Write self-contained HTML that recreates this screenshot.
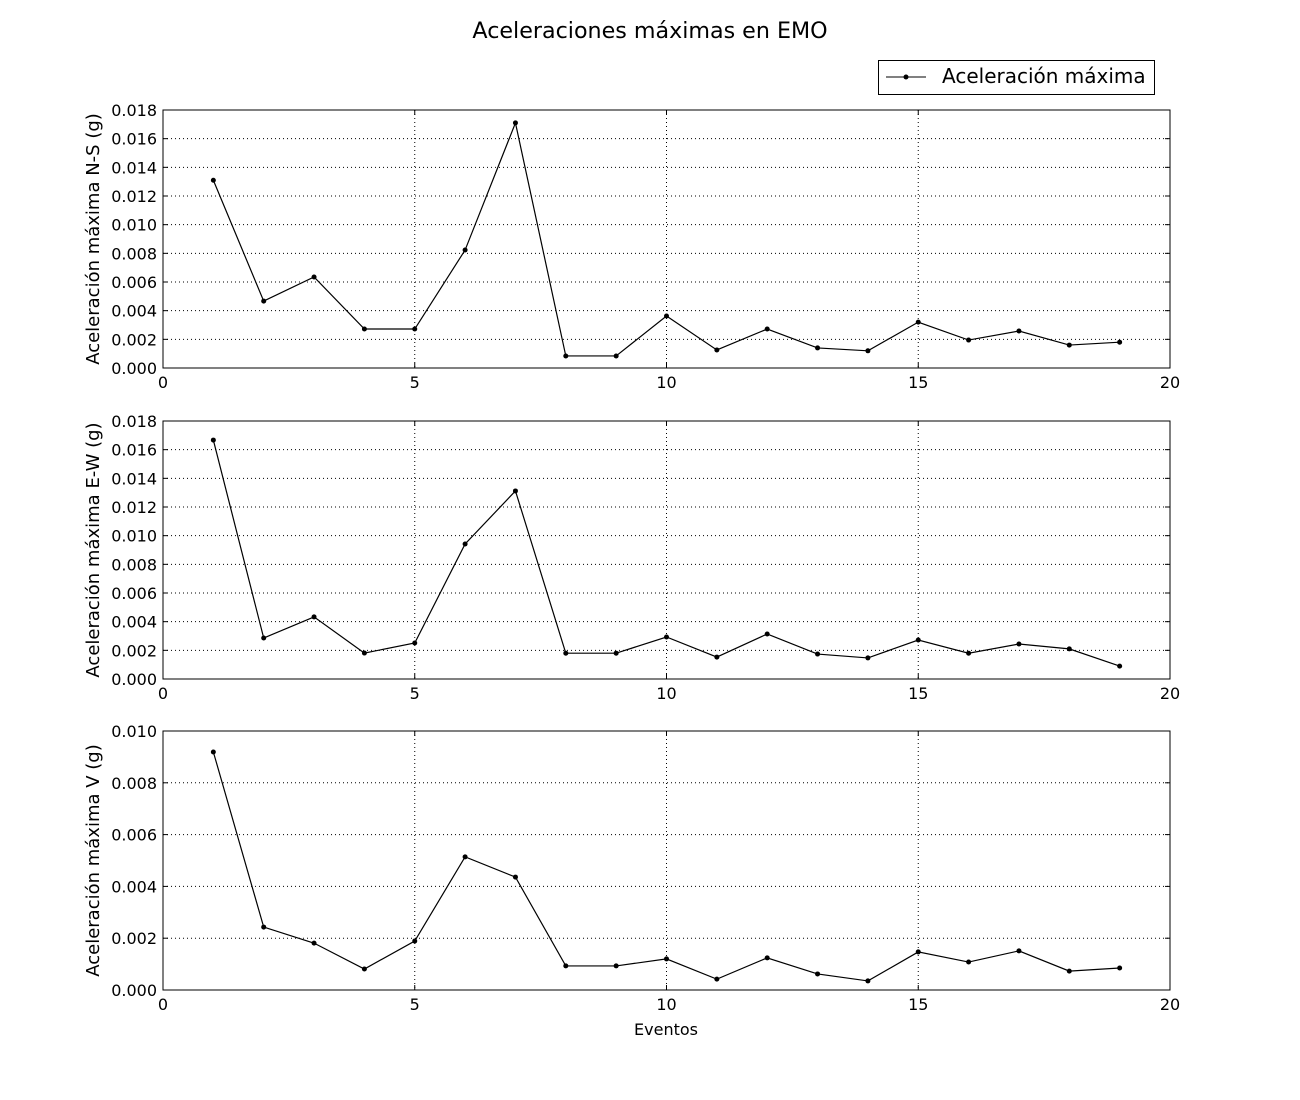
<!DOCTYPE html>
<html><head><meta charset="utf-8"><style>
body{margin:0;background:#fff}
svg{display:block;font-family:"DejaVu Sans","Liberation Sans",sans-serif}
</style></head><body>
<svg id="chart" width="1300" height="1100">
<text x="650" y="38" text-anchor="middle" font-size="22.2">Aceleraciones máximas en EMO</text>
<g>
<rect x="878.5" y="60.5" width="276" height="34" fill="#fff" stroke="#000"/>
<line x1="886" y1="77" x2="926" y2="77" stroke="#000"/>
<circle cx="906" cy="77" r="2.5" fill="#000"/>
<text x="942" y="83" font-size="20">Aceleración máxima</text>
</g>
<text x="666" y="1035" text-anchor="middle" font-size="16">Eventos</text>
</svg>
<script>
const events=[1,2,3,4,5,6,7,8,9,10,11,12,13,14,15,16,17,18,19];
const accNS=[0.0131,0.00467,0.00635,0.00272,0.00272,0.00823,0.0171,0.00084,0.00084,0.00363,0.00126,0.00272,0.0014,0.0012,0.0032,0.00195,0.00258,0.0016,0.0018];
const accEW=[0.01667,0.00286,0.00433,0.00181,0.00251,0.00942,0.01312,0.0018,0.0018,0.00293,0.00153,0.00314,0.00174,0.00147,0.00272,0.0018,0.00244,0.0021,0.0009];
const accV=[0.00919,0.00243,0.00181,0.00081,0.00189,0.00514,0.00436,0.00093,0.00093,0.0012,0.00042,0.00124,0.00062,0.00035,0.00147,0.00108,0.00151,0.00073,0.00085];
const xTicks=[0,5,10,15,20];
const yTicksA=[0,0.002,0.004,0.006,0.008,0.010,0.012,0.014,0.016,0.018];
const yTicksV=[0,0.002,0.004,0.006,0.008,0.010];
const NS='http://www.w3.org/2000/svg';
const svg=document.getElementById('chart');
function mk(t,a,p){const e=document.createElementNS(NS,t);for(const k in a)e.setAttribute(k,a[k]);(p||svg).appendChild(e);return e;}
const L=163,R=1170;
const panels=[
 {name:'ns',top:110,bot:368,vals:accNS,ticks:yTicksA,ymax:0.018,label:'Aceleración máxima N-S (g)'},
 {name:'ew',top:421,bot:679,vals:accEW,ticks:yTicksA,ymax:0.018,label:'Aceleración máxima E-W (g)'},
 {name:'v',top:731,bot:990,vals:accV,ticks:yTicksV,ymax:0.010,label:'Aceleración máxima V (g)'}];
panels.forEach(p=>{
 const g=mk('g',{});
 
 
 const xs=v=>L+(v-0)/(20-0)*(R-L);
 const ys=v=>p.bot-v/p.ymax*(p.bot-p.top);
 xTicks.forEach(t=>{
  const x=xs(t);
  if(t>0&&t<20){const gl=mk('line',{x1:x,x2:x,y1:p.top,y2:p.bot,stroke:'#000','stroke-dasharray':'1,3','stroke-width':1},g);}
  mk('line',{x1:x,x2:x,y1:p.bot,y2:p.bot-5,stroke:'#000'},g);
  mk('line',{x1:x,x2:x,y1:p.top,y2:p.top+5,stroke:'#000'},g);
  const tx=mk('text',{x:x,y:p.bot+20,'text-anchor':'middle','font-size':16},g);tx.textContent=t;
  
 });
 p.ticks.forEach(t=>{
  const y=ys(t);
  if(t>0&&t<p.ymax-1e-9){const gl=mk('line',{x1:L,x2:R,y1:y,y2:y,stroke:'#000','stroke-dasharray':'1,3'},g);}
  mk('line',{x1:L,x2:L+5,y1:y,y2:y,stroke:'#000'},g);
  mk('line',{x1:R,x2:R-5,y1:y,y2:y,stroke:'#000'},g);
  const tx=mk('text',{x:L-6,y:y+6,'text-anchor':'end','font-size':16},g);tx.textContent=t.toFixed(3);
  
 });
 const fr=mk('rect',{x:L,y:p.top,width:R-L,height:p.bot-p.top,fill:'none',stroke:'#000'},g);
 
 const yl=mk('text',{x:0,y:0,'text-anchor':'middle','font-size':18,transform:`translate(99,${(p.top+p.bot)/2}) rotate(-90)`},g);
 yl.textContent=p.label;
 
 const pts=events.map((e,i)=>xs(e)+','+ys(p.vals[i])).join(' ');
 const ln=mk('polyline',{points:pts,fill:'none',stroke:'#000','stroke-width':1.2},g);
 
 events.forEach((e,i)=>{
  const c=mk('circle',{cx:xs(e),cy:ys(p.vals[i]),r:2.5,fill:'#000'},g);
  
  
 });
});
</script>
</body></html>
